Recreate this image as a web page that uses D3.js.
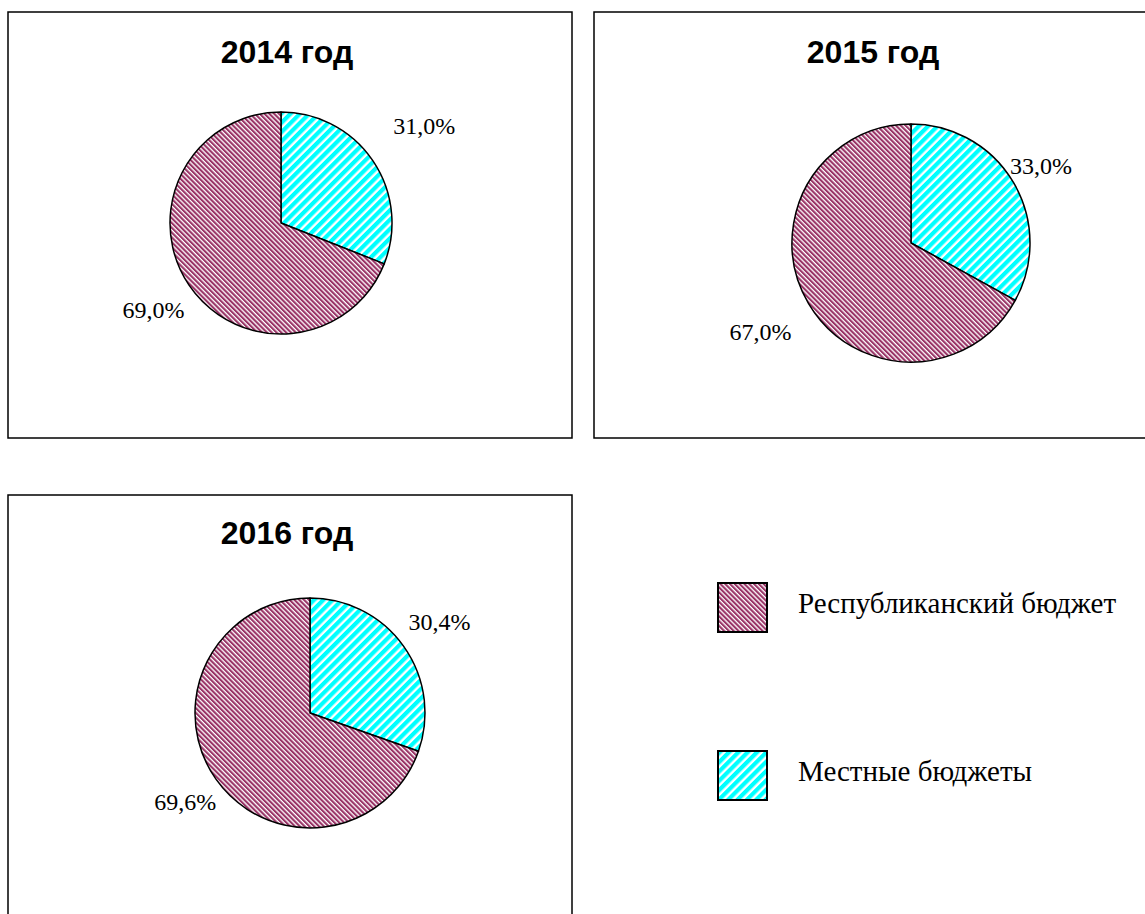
<!DOCTYPE html>
<html>
<head>
<meta charset="utf-8">
<script src="https://cdn.jsdelivr.net/npm/d3@7"></script>
<style>
  body { margin: 0; background: #fff; }
  svg { display: block; }
</style>
</head>
<body>
<svg id="chart"></svg>
<script>
// data
var years = ["2014 год", "2015 год", "2016 год"];
var categories = ["Республиканский бюджет", "Местные бюджеты"];
var republican = [69.0, 67.0, 69.6];
var local = [31.0, 33.0, 30.4];

// layout of the three framed panels (box, pie, label distance as multiple of r)
var panels = [
    {x: 8, y: 12, w: 564, h: 426, cx: 281, cy: 223, r: 111, ty: 63, lr: [1.56, 1.39]},
    {x: 594, y: 12, w: 564, h: 426, cx: 911, cy: 243, r: 119, ty: 63, lr: [1.27, 1.47]},
    {x: 8, y: 495, w: 564, h: 426, cx: 310, cy: 713, r: 115, ty: 544, lr: [1.38, 1.33]}
];

var W = 1145, H = 914;
var svg = d3.select("#chart").attr("width", W).attr("height", H);

// hatch patterns
var defs = svg.append("defs");
function hatch(id, color, period, stripe, angle) {
    var p = defs.append("pattern")
        .attr("id", id)
        .attr("patternUnits", "userSpaceOnUse")
        .attr("width", period).attr("height", period)
        .attr("patternTransform", "rotate(" + angle + ")");
    p.append("rect").attr("width", period).attr("height", period).attr("fill", "#fff");
    p.append("rect").attr("width", stripe).attr("height", period).attr("fill", color);
}
hatch("hRep", "#993366", 3.4, 2.1, -45);
hatch("hLoc", "#00ffff", 6.6, 4.2, 45);

var fills = {};
fills[categories[0]] = "url(#hRep)";
fills[categories[1]] = "url(#hLoc)";

var fmt = function (v) { return d3.format(".1f")(v).replace(".", ",") + "%"; };

// pie: local share starts at 12 o'clock, clockwise
var pie = d3.pie().sort(null).value(function (d) { return d.value; });

panels.forEach(function (p, i) {
    var g = svg.append("g");

    g.append("rect")
        .attr("x", p.x).attr("y", p.y)
        .attr("width", p.w).attr("height", p.h)
        .attr("fill", "none")
        .attr("stroke", "#000")
        .attr("stroke-width", 1.5);

    g.append("text")
        .attr("x", p.x + p.w / 2 - 3)
        .attr("y", p.ty)
        .attr("text-anchor", "middle")
        .attr("font-family", "'Liberation Sans', Arial, sans-serif")
        .attr("font-weight", "bold")
        .attr("font-size", 32)
        .text(years[i]);

    var slices = pie([
        {name: categories[1], value: local[i]},
        {name: categories[0], value: republican[i]}
    ]);

    var arc = d3.arc().innerRadius(0).outerRadius(p.r);

    var pg = g.append("g").attr("transform", "translate(" + p.cx + "," + p.cy + ")");

    pg.selectAll("path").data(slices).enter().append("path")
        .attr("d", arc)
        .attr("fill", function (d) { return fills[d.data.name]; })
        .attr("stroke", "#000")
        .attr("stroke-width", 1.5)
        .attr("stroke-linejoin", "round");

    pg.selectAll("text").data(slices).enter().append("text")
        .attr("transform", function (d, k) {
            var rr = p.r * p.lr[k];
            return "translate(" + d3.arc().innerRadius(rr).outerRadius(rr).centroid(d) + ")";
        })
        .attr("text-anchor", "middle")
        .attr("dy", "0.35em")
        .attr("font-family", "'Liberation Serif', 'Times New Roman', serif")
        .attr("font-size", 24)
        .text(function (d) { return fmt(d.data.value); });
});

// legend
var legend = svg.append("g").attr("transform", "translate(718,583)");
var item = legend.selectAll("g").data(categories).enter().append("g")
    .attr("transform", function (d, i) { return "translate(0," + (i * 168) + ")"; });

item.append("rect")
    .attr("width", 49).attr("height", 49)
    .attr("fill", function (d) { return fills[d]; })
    .attr("stroke", "#000")
    .attr("stroke-width", 2);

item.append("text")
    .attr("x", 80)
    .attr("y", 30)
    .attr("font-family", "'Liberation Serif', 'Times New Roman', serif")
    .attr("font-size", 29)
    .text(function (d) { return d; });
</script>
</body>
</html>
